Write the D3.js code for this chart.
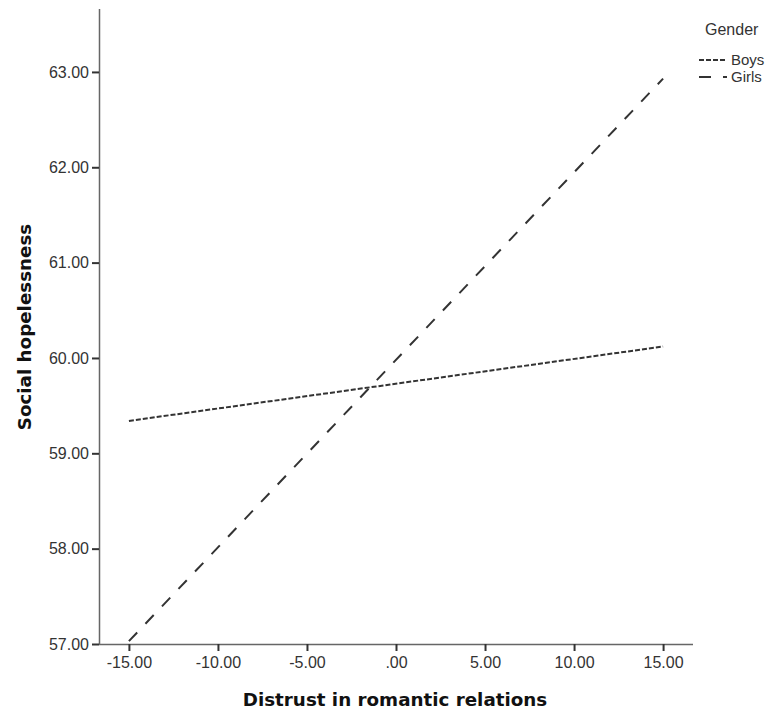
<!DOCTYPE html>
<html>
<head>
<meta charset="utf-8">
<script src="https://cdn.jsdelivr.net/npm/d3@7"></script>
<style>
  body { margin: 0; background: #fff; }
  .tick text { font-family: "Liberation Sans", Arial, sans-serif; font-size: 16px; fill: #333; }
  .axis-title { font-family: "DejaVu Sans", Verdana, sans-serif; font-weight: bold; font-size: 18.3px; fill: #111; }
  .legend text { font-family: "Liberation Sans", Arial, sans-serif; fill: #333; }
</style>
</head>
<body>
<div id="chart"></div>
<script>
// data
var xValues = [-15, 15];
var boysValues = [59.34, 60.12];
var girlsValues = [57.03, 62.93];
var xTicks = [-15, -10, -5, 0, 5, 10, 15];
var yTicks = [57, 58, 59, 60, 61, 62, 63];
var groups = ["Boys", "Girls"];

var width = 770, height = 711;

var svg = d3.select("#chart")
  .append("svg")
  .attr("width", width)
  .attr("height", height);

/* Scales */
var xScale = d3.scaleLinear().domain([-16.68, 16.68]).range([99, 693]);
var yScale = d3.scaleLinear().domain([57, 63.66]).range([644, 9]);

// SPSS style: plain hyphen, no leading zero
var fmt = function(d) {
  return d3.format(".2f")(d).replace("\u2212", "-").replace(/^(-?)0\./, "$1.");
};

/* Axes */
var xAxis = d3.axisBottom(xScale).tickValues(xTicks).tickSize(7).tickPadding(6).tickFormat(fmt);
var yAxis = d3.axisLeft(yScale).tickValues(yTicks).tickSize(7).tickPadding(3).tickFormat(fmt);

var gx = svg.append("g")
  .attr("class", "x axis")
  .attr("transform", "translate(0, 644)")
  .call(xAxis);

var gy = svg.append("g")
  .attr("class", "y axis")
  .attr("transform", "translate(99, 0)")
  .call(yAxis);

svg.selectAll(".axis").attr("font-size", null).attr("font-family", null);
svg.selectAll(".domain").attr("stroke", "#666").attr("stroke-width", 1.5);
gx.select(".domain").attr("d", "M99,0.5H693");
gy.select(".domain").attr("d", "M0.5,644V9");
svg.selectAll(".tick line").attr("stroke", "#333").attr("stroke-width", 2);

/* Titles */
svg.append("text")
  .attr("class", "axis-title")
  .attr("x", 395)
  .attr("y", 706)
  .attr("text-anchor", "middle")
  .text("Distrust in romantic relations");

svg.append("text")
  .attr("class", "axis-title")
  .attr("transform", "translate(31, 327) rotate(-90)")
  .attr("text-anchor", "middle")
  .text("Social hopelessness");

/* Lines */
var series = [
  { name: "Boys", values: boysValues, dash: "5,2" },
  { name: "Girls", values: girlsValues, dash: "12,12" }
];

var line = d3.line()
  .x(function(d) { return xScale(d.x); })
  .y(function(d) { return yScale(d.y); });

svg.append("g")
  .attr("class", "lines")
  .selectAll("path")
  .data(series)
  .enter()
  .append("path")
  .attr("d", function(s) {
    return line(s.values.map(function(v, i) { return { x: xValues[i], y: v }; }));
  })
  .attr("fill", "none")
  .attr("stroke", "#333")
  .attr("stroke-width", 2)
  .attr("stroke-dasharray", function(s) { return s.dash; });

/* Legend */
var legend = svg.append("g").attr("class", "legend");

legend.append("text")
  .attr("x", 705)
  .attr("y", 35)
  .style("font-size", "16px")
  .text("Gender");

var items = legend.selectAll(".item")
  .data(series)
  .enter()
  .append("g")
  .attr("class", "item")
  .attr("transform", function(d, i) { return "translate(0," + (60 + i * 17) + ")"; });

items.append("line")
  .attr("x1", 699)
  .attr("x2", 727)
  .attr("stroke", "#333")
  .attr("stroke-width", 2)
  .attr("stroke-dasharray", function(d) { return d.dash; });

items.append("text")
  .attr("x", 731)
  .attr("y", 5)
  .style("font-size", "15px")
  .text(function(d) { return d.name; });
</script>
</body>
</html>
